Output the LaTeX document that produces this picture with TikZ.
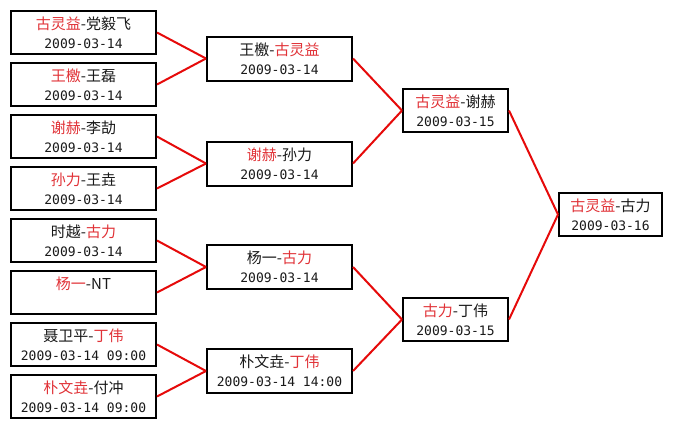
\documentclass[tikz,border=0pt]{standalone}
\usepackage{fontspec}
\newfontfamily\cjk{Noto Sans CJK SC}
\newfontfamily\dig{DejaVu Sans Mono}
\definecolor{tred}{RGB}{225,50,55}
\definecolor{lred}{RGB}{230,10,10}
\definecolor{tblk}{RGB}{25,25,25}
\newcommand\rd[1]{\textcolor{tred}{#1}}
\newcommand\dt[1]{{\dig\fontsize{13}{19}\selectfont #1}}
\begin{document}
\begin{tikzpicture}[x=1pt,y=-1pt,
  box/.style={draw=black, line width=2pt, fill=white, inner sep=0pt, minimum height=43pt, align=center,
    text=tblk, font=\cjk\fontsize{15}{19}\selectfont},
  c1/.style={box, minimum width=145pt},
  c2/.style={box, minimum width=145pt, minimum height=44pt},
  c3/.style={box, minimum width=105pt},
  c4/.style={box, minimum width=103pt},
  conn/.style={draw=lred, line width=2pt}
]
\useasboundingbox[fill=white] (0,0) rectangle (674,429);

\node[c1] (r1a) at (83.5,32.5)  {\rd{古灵益}-党毅飞\\\dt{2009-03-14}};
\node[c1] (r1b) at (83.5,84.5)  {\rd{王檄}-王磊\\\dt{2009-03-14}};
\node[c1] (r1c) at (83.5,136.5) {\rd{谢赫}-李劼\\\dt{2009-03-14}};
\node[c1] (r1d) at (83.5,188.5) {\rd{孙力}-王垚\\\dt{2009-03-14}};
\node[c1] (r1e) at (83.5,240.5) {时越-\rd{古力}\\\dt{2009-03-14}};
\node[c1] (r1f) at (83.5,292.5) {\rd{杨一}-NT\\\dt{\phantom{2009-03-14}}};
\node[c1] (r1g) at (83.5,344.5) {聂卫平-\rd{丁伟}\\\dt{2009-03-14 09:00}};
\node[c1] (r1h) at (83.5,396.5) {\rd{朴文垚}-付冲\\\dt{2009-03-14 09:00}};

\node[c2] (r2a) at (279.5,58.5)  {王檄-\rd{古灵益}\\\dt{2009-03-14}};
\node[c2] (r2b) at (279.5,163.5) {\rd{谢赫}-孙力\\\dt{2009-03-14}};
\node[c2] (r2c) at (279.5,267)   {杨一-\rd{古力}\\\dt{2009-03-14}};
\node[c2] (r2d) at (279.5,371)   {朴文垚-\rd{丁伟}\\\dt{2009-03-14 14:00}};

\node[c3] (r3a) at (455.5,110.5) {\rd{古灵益}-谢赫\\\dt{2009-03-15}};
\node[c3] (r3b) at (455.5,319.5) {\rd{古力}-丁伟\\\dt{2009-03-15}};

\node[c4] (fin) at (610.5,214.5) {\rd{古灵益}-古力\\\dt{2009-03-16}};

\draw[conn] (r1a.east) -- (r2a.west);
\draw[conn] (r1b.east) -- (r2a.west);
\draw[conn] (r1c.east) -- (r2b.west);
\draw[conn] (r1d.east) -- (r2b.west);
\draw[conn] (r1e.east) -- (r2c.west);
\draw[conn] (r1f.east) -- (r2c.west);
\draw[conn] (r1g.east) -- (r2d.west);
\draw[conn] (r1h.east) -- (r2d.west);
\draw[conn] (r2a.east) -- (r3a.west);
\draw[conn] (r2b.east) -- (r3a.west);
\draw[conn] (r2c.east) -- (r3b.west);
\draw[conn] (r2d.east) -- (r3b.west);
\draw[conn] (r3a.east) -- (fin.west);
\draw[conn] (r3b.east) -- (fin.west);
\end{tikzpicture}
\end{document}
